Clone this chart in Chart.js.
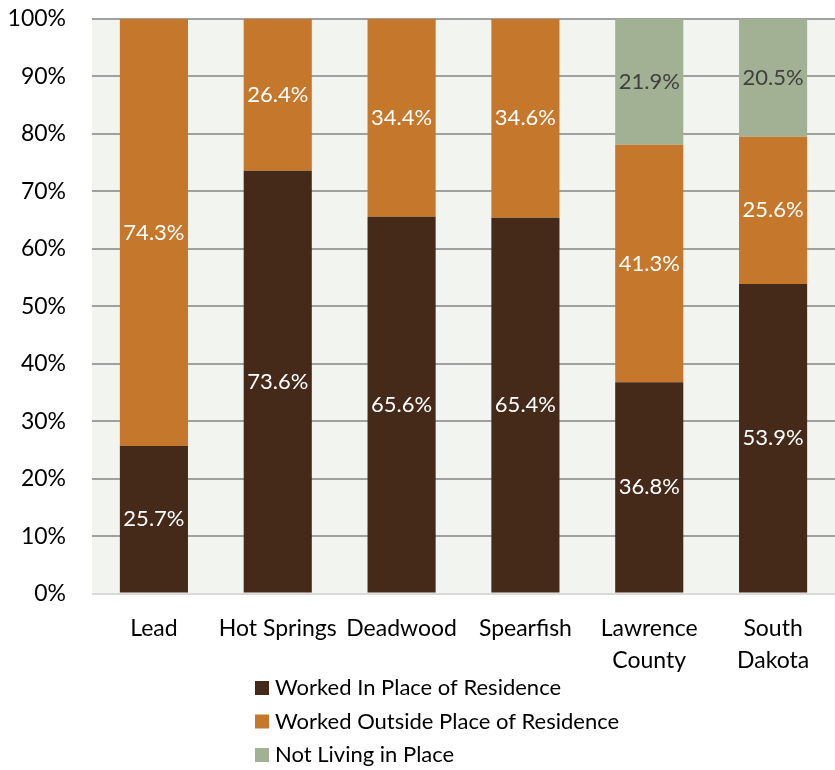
<!DOCTYPE html>
<html>
<head>
<meta charset="utf-8">
<script src="https://cdn.jsdelivr.net/npm/chart.js@4.4.1/dist/chart.umd.min.js"></script>
<style>
  html, body { margin: 0; padding: 0; background: #fff; }
  #wrap { width: 835px; height: 770px; }
</style>
</head>
<body>
<div id="wrap"><canvas id="myChart"></canvas></div>
<script>
let categories = ['Lead', 'Hot Springs', 'Deadwood', 'Spearfish', ['Lawrence', 'County'], ['South', 'Dakota']];
let workedIn = [25.7, 73.6, 65.6, 65.4, 36.8, 53.9];
let workedOutside = [74.3, 26.4, 34.4, 34.6, 41.3, 25.6];
let notLiving = [0, 0, 0, 0, 21.9, 20.5];
let yTicks = [0, 10, 20, 30, 40, 50, 60, 70, 80, 90, 100];

const FONT = 'Lato';

// plot background
const plotBg = {
  id: 'plotBg',
  beforeDraw(chart) {
    const a = chart.chartArea, ctx = chart.ctx;
    ctx.save();
    ctx.fillStyle = '#f2f4ef';
    ctx.fillRect(a.left, a.top, a.right - a.left, a.bottom - a.top);
    ctx.restore();
  }
};

// value labels in the middle of each segment
const segLabels = {
  id: 'segLabels',
  afterDatasetsDraw(chart) {
    const ctx = chart.ctx;
    ctx.save();
    ctx.font = '22px ' + FONT;
    ctx.textAlign = 'center';
    ctx.textBaseline = 'middle';
    chart.data.datasets.forEach((ds, i) => {
      const meta = chart.getDatasetMeta(i);
      meta.data.forEach((bar, j) => {
        const v = ds.data[j];
        if (!v) return;
        ctx.fillStyle = ds.labelColor;
        ctx.fillText(v.toFixed(1) + '%', bar.x, (bar.y + bar.base) / 2);
      });
    });
    ctx.restore();
  }
};

// vertical legend under the chart
const colLegend = {
  id: 'colLegend',
  afterDraw(chart) {
    const ctx = chart.ctx;
    ctx.save();
    ctx.font = '22px ' + FONT;
    ctx.textBaseline = 'middle';
    chart.data.datasets.forEach((ds, i) => {
      const y = 688 + i * 33.5;
      ctx.fillStyle = ds.backgroundColor;
      ctx.fillRect(255, y - 7, 14, 14);
      ctx.fillStyle = '#000';
      ctx.fillText(ds.label, 275, y);
    });
    ctx.restore();
  }
};

new Chart(document.getElementById('myChart'), {
  type: 'bar',
  data: {
    labels: categories,
    datasets: [
      { label: 'Worked In Place of Residence', data: workedIn, backgroundColor: '#452a1a', labelColor: '#ffffff' },
      { label: 'Worked Outside Place of Residence', data: workedOutside, backgroundColor: '#c5772c', labelColor: '#ffffff' },
      { label: 'Not Living in Place', data: notLiving, backgroundColor: '#a2b093', labelColor: '#404040' }
    ]
  },
  options: {
    responsive: true,
    maintainAspectRatio: false,
    animation: false,
    layout: { padding: { top: 19, right: 0, left: 0, bottom: 82 } },
    datasets: {
      bar: {
        categoryPercentage: 1,
        barPercentage: 0.55,
        borderWidth: 0
      }
    },
    plugins: {
      legend: { display: false },
      tooltip: { enabled: false }
    },
    scales: {
      x: {
        stacked: true,
        grid: { display: false },
        border: { display: false },
        ticks: {
          color: '#000',
          padding: 11,
          maxRotation: 0,
          autoSkip: false,
          font: { family: FONT, size: 23, lineHeight: 1.4 }
        }
      },
      y: {
        stacked: true,
        min: 0,
        max: 100,
        afterBuildTicks(scale) {
          scale.ticks = yTicks.map(v => ({ value: v }));
        },
        afterFit(scale) {
          scale.width = 92;
          scale.paddingTop = 0;
          scale.paddingBottom = 0;
        },
        grid: {
          drawTicks: false,
          lineWidth: 2,
          color: ctx => ctx.tick && ctx.tick.value === 0 ? '#d9d9d9' : '#a0a0a0'
        },
        border: { display: false },
        ticks: {
          color: '#000',
          padding: 26,
          font: { family: FONT, size: 23 },
          callback: v => v + '%'
        }
      }
    }
  },
  plugins: [plotBg, segLabels, colLegend]
});
</script>
</body>
</html>
